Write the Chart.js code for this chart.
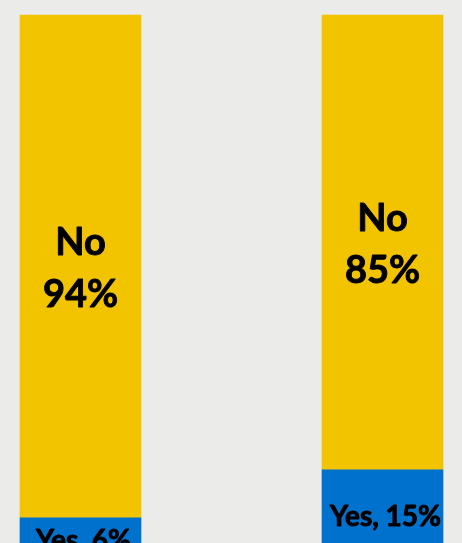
<!DOCTYPE html>
<html>
<head>
<meta charset="utf-8">
<script src="https://cdn.jsdelivr.net/npm/chart.js@4"></script>
<style>
  html, body { margin: 0; padding: 0; background: #ebebea; overflow: hidden; }
  #wrap { width: 462px; height: 560px; }
</style>
</head>
<body>
<div id="wrap"><canvas id="yesNoChart"></canvas></div>
<script>
const categories = ['A', 'B'];
const yesValues = [6, 15];
const noValues = [94, 85];

const YELLOW = '#f2c400';
const BLUE = '#0072ce';
const FONT = 'Lato, "Open Sans", sans-serif';

// draws the segment labels in the middle of each stacked piece
const segmentLabels = {
    id: 'segmentLabels',
    afterDatasetsDraw(chart) {
        const ctx = chart.ctx;
        ctx.save();
        ctx.fillStyle = '#000';
        ctx.strokeStyle = '#000';
        ctx.lineWidth = 0.9;
        ctx.lineJoin = 'round';
        ctx.textAlign = 'center';
        ctx.textBaseline = 'middle';
        const put = (t, x, y) => { ctx.fillText(t, x, y); ctx.strokeText(t, x, y); };
        chart.data.datasets.forEach((ds, di) => {
            const meta = chart.getDatasetMeta(di);
            meta.data.forEach((bar, i) => {
                const v = ds.data[i];
                const mid = (bar.y + bar.base) / 2;
                if (ds.label === 'No') {
                    ctx.font = 'bold 38px ' + FONT;
                    put('No', bar.x, mid - 24);
                    put(v + '%', bar.x, mid + 28);
                } else {
                    ctx.font = 'bold 28px ' + FONT;
                    put('Yes, ' + v + '%', bar.x + 3, mid + 7);
                }
            });
        });
        ctx.restore();
    }
};

new Chart(document.getElementById('yesNoChart'), {
    type: 'bar',
    data: {
        labels: categories,
        datasets: [
            { label: 'Yes', data: yesValues, backgroundColor: BLUE, barThickness: 121, clip: false },
            { label: 'No', data: noValues, backgroundColor: YELLOW, barThickness: 121, clip: false }
        ]
    },
    options: {
        responsive: true, maintainAspectRatio: false, animation: false,
        layout: { padding: { left: 80.5, right: 79.5, top: 15, bottom: 10 } },
        plugins: { legend: { display: false }, tooltip: { enabled: false } },
        scales: {
            x: { stacked: true, display: false, offset: false },
            y: { stacked: true, display: false, min: 0, max: 100 }
        }
    },
    plugins: [segmentLabels]
});
</script>
</body>
</html>
